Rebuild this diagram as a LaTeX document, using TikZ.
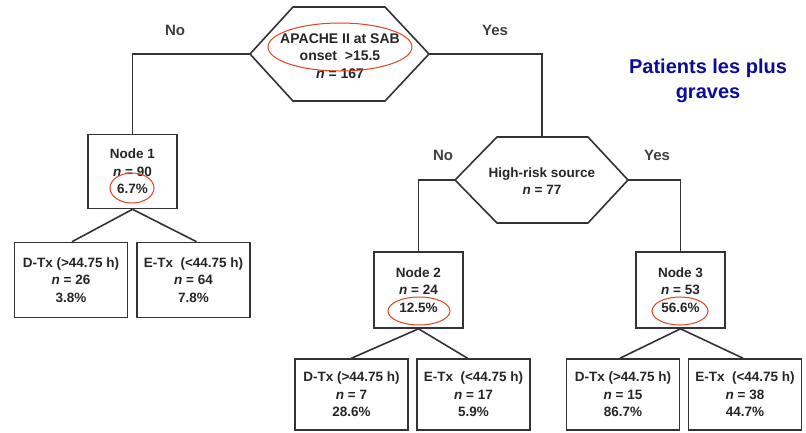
\documentclass[tikz,border=0pt]{standalone}
\usepackage{fontspec}
\setmainfont{Liberation Sans}
\definecolor{ln}{HTML}{333333}
\definecolor{ovl}{HTML}{E2401E}
\definecolor{bl}{HTML}{0C0C98}
\begin{document}
\begin{tikzpicture}[x=1pt,y=-1pt,
  every node/.style={font=\fontsize{13.5}{17.5}\selectfont\bfseries, text=black!85},
  conn/.style={draw=ln, line width=1.6pt},
  boxnode/.style={draw=ln, line width=1.6pt, align=center, inner sep=0pt, fill=white},
  midbox/.style={boxnode, minimum width=89pt, minimum height=74pt},
  leafbox/.style={boxnode, minimum width=113pt, minimum height=75pt},
  leafbox2/.style={boxnode, minimum width=113pt, minimum height=71pt},
  hexline/.style={draw=ln, line width=1.6pt},
  oval/.style={draw=ovl, line width=1pt},
  lbl/.style={font=\fontsize{15}{17}\selectfont\bfseries, text=black!75}
]
\useasboundingbox[fill=white] (0,0) rectangle (806,432);

% top hexagon
\coordinate (aL) at (250,54);
\coordinate (aR) at (429,54);
\draw[hexline] (aL) -- (293,7) -- (385,7) -- (aR) -- (385,101) -- (293,101) -- cycle;
\node[align=center, font=\fontsize{14}{17.5}\selectfont\bfseries] (apache) at (340,56) {APACHE II at SAB\\ onset\ \ >15.5\\ \textit{n} = 167};

% high-risk hexagon
\coordinate (bL) at (455,180);
\coordinate (bR) at (628,180);
\coordinate (bT) at (542,137);
\draw[hexline] (bL) -- (497,137) -- (588,137) -- (bR) -- (588,223) -- (497,223) -- cycle;
\node[align=center] (hrisk) at (542,181) {High-risk source\\ \textit{n} = 77};

% intermediate nodes
\node[midbox] (n1) at (132.5,171.5) {Node 1\\ \textit{n} = 90\\ 6.7\%};
\node[midbox, minimum height=76pt] (n2) at (418.5,290) {Node 2\\ \textit{n} = 24\\ 12.5\%};
\node[midbox, minimum height=76pt] (n3) at (680.5,290) {Node 3\\ \textit{n} = 53\\ 56.6\%};

% leaves row 1
\node[leafbox] (l1) at (71,280) {D-Tx (>44.75 h)\\ \textit{n} = 26\\ 3.8\%};
\node[leafbox] (l2) at (193.5,280) {E-Tx\ \ (<44.75 h)\\ \textit{n} = 64\\ 7.8\%};

% leaves row 2
\node[leafbox2] (l3) at (351.5,394.5) {D-Tx (>44.75 h)\\ \textit{n} = 7\\ 28.6\%};
\node[leafbox2] (l4) at (473.5,394.5) {E-Tx\ \ (<44.75 h)\\ \textit{n} = 17\\ 5.9\%};
\node[leafbox2] (l5) at (623,394.5) {D-Tx (>44.75 h)\\ \textit{n} = 15\\ 86.7\%};
\node[leafbox2] (l6) at (745,394.5) {E-Tx\ \ (<44.75 h)\\ \textit{n} = 38\\ 44.7\%};

% connectors
\draw[conn] (aL) -| (n1.north);
\draw[conn] (aR) -| (bT);
\draw[conn] (bL) -| (n2.north);
\draw[conn] (bR) -| (n3.north);
\draw[conn] (n1.south) -- ([xshift=1pt]l1.north);
\draw[conn] (n1.south) -- ([xshift=3pt]l2.north);
\draw[conn] (n2.south) -- (l3.north);
\draw[conn] (n2.south) -- ([xshift=-6pt]l4.north);
\draw[conn] (n3.south) -- ([xshift=-3pt]l5.north);
\draw[conn] (n3.south) -- ([xshift=-2pt]l6.north);

% branch labels
\node[lbl] (no1) at (175,30) {No};
\node[lbl] (yes1) at (495,30) {Yes};
\node[lbl] (no2) at (443,155) {No};
\node[lbl] (yes2) at (657,155) {Yes};

% red ovals
\draw[oval] (340,47) ellipse [x radius=72, y radius=24];
\draw[oval] (132,188) ellipse [x radius=22, y radius=15];
\draw[oval] (419,311) ellipse [x radius=31, y radius=14];
\draw[oval] (680,311) ellipse [x radius=28, y radius=14];

% note
\node[font=\fontsize{20}{25}\selectfont\bfseries, text=bl, align=center] (note) at (708,81) {Patients les plus\\ graves};
\end{tikzpicture}
\end{document}
